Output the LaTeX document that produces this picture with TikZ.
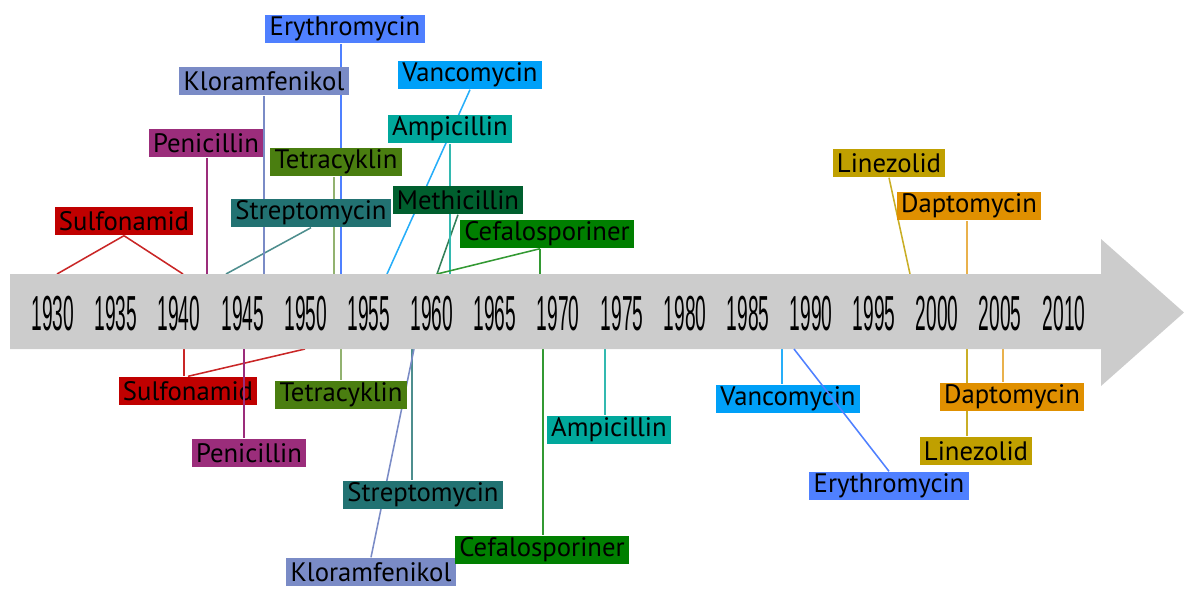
\documentclass[tikz,border=0pt]{standalone}
\usepackage{fontspec}
\setmainfont{PT Sans}
\newfontfamily\yearfont[FakeStretch=0.39]{Liberation Sans}
\usetikzlibrary{backgrounds}
\definecolor{bar}{HTML}{CCCCCC}
\definecolor{sulf}{HTML}{C00000}
\definecolor{peni}{HTML}{9B2D7B}
\definecolor{klor}{HTML}{7A8BC6}
\definecolor{ery}{HTML}{4F80FF}
\definecolor{tetr}{HTML}{4A7E10}
\definecolor{strep}{HTML}{227272}
\definecolor{vanc}{HTML}{00A0F8}
\definecolor{ampi}{HTML}{00A89C}
\definecolor{meth}{HTML}{005F2E}
\definecolor{cefa}{HTML}{007F00}
\definecolor{linz}{HTML}{C0A000}
\definecolor{dapt}{HTML}{E09000}

\begin{document}
\begin{tikzpicture}[x=0.025cm,y=-0.025cm]
	    \tikzstyle{drug}=[inner xsep=3pt,inner ysep=0pt,minimum height=0.72cm,font=\fontsize{19}{22}\selectfont]
	    \tikzstyle{year}=[inner sep=0pt,font=\yearfont\fontsize{35}{36}\selectfont]
	    \tikzstyle{link}=[line width=1.1pt]

	    \useasboundingbox (0,0) rectangle (1184,588);
	    \fill[bar] (10,274) -- (1101,274) -- (1101,239) -- (1184,312.5) -- (1101,386) -- (1101,349) -- (10,349) -- cycle;

	    \node[year](y1930) at (53,314){1930};
	    \node[year](y1935) at (116,314){1935};
	    \node[year](y1940) at (179,314){1940};
	    \node[year](y1945) at (243,314){1945};
	    \node[year](y1950) at (306,314){1950};
	    \node[year](y1955) at (369,314){1955};
	    \node[year](y1960) at (432,314){1960};
	    \node[year](y1965) at (495,314){1965};
	    \node[year](y1970) at (558,314){1970};
	    \node[year](y1975) at (622,314){1975};
	    \node[year](y1980) at (685,314){1980};
	    \node[year](y1985) at (748,314){1985};
	    \node[year](y1990) at (811,314){1990};
	    \node[year](y1995) at (874,314){1995};
	    \node[year](y2000) at (937,314){2000};
	    \node[year](y2005) at (1000,314){2005};
	    \node[year](y2010) at (1064,314){2010};

	    % ovanfor pilen
	    \node[drug,fill=sulf](sulfu) at (124,221){Sulfonamid};
	    \node[drug,fill=peni](peniu) at (206,143){Penicillin};
	    \node[drug,fill=klor](kloru) at (264,81){Kloramfenikol};
	    \node[drug,fill=ery](eryu) at (345,29){Erythromycin};
	    \node[drug,fill=tetr](tetru) at (336,162){Tetracyklin};
	    \node[drug,fill=strep](strepu) at (311,213){Streptomycin};
	    \node[drug,fill=vanc](vancu) at (470,75){Vancomycin};
	    \node[drug,fill=ampi](ampiu) at (450,129){Ampicillin};
	    \node[drug,fill=meth](methu) at (458,200){Methicillin};
	    \node[drug,fill=cefa](cefau) at (547,234){Cefalosporiner};
	    \node[drug,fill=linz](linzu) at (889,163){Linezolid};
	    \node[drug,fill=dapt](daptu) at (969,206){Daptomycin};

	    % nedanfor pilen
	    \node[drug,fill=sulf](sulfd) at (188,391){Sulfonamid};
	    \node[drug,fill=peni](penid) at (249,453){Penicillin};
	    \node[drug,fill=tetr](tetrd) at (341,395){Tetracyklin};
	    \node[drug,fill=strep](strepd) at (423,495){Streptomycin};
	    \node[drug,fill=klor](klord) at (371,572){Kloramfenikol};
	    \node[drug,fill=cefa](cefad) at (542,550){Cefalosporiner};
	    \node[drug,fill=ampi](ampid) at (609,430){Ampicillin};
	    \node[drug,fill=vanc](vancd) at (788,399){Vancomycin};
	    \node[drug,fill=ery](eryd) at (889,486){Erythromycin};
	    \node[drug,fill=dapt](daptd) at (1012,397){Daptomycin};
	    \node[drug,fill=linz](linzd) at (976,451){Linezolid};

	    \coordinate (t1) at (57,274);
	    \coordinate (t2) at (183,274);
	    \coordinate (t3) at (207,274);
	    \coordinate (t4) at (226,274);
	    \coordinate (t5) at (264,274);
	    \coordinate (t6) at (334,274);
	    \coordinate (t7) at (341,274);
	    \coordinate (t8) at (387,274);
	    \coordinate (t9) at (437,274);
	    \coordinate (t10) at (450,274);
	    \coordinate (t11) at (540,274);
	    \coordinate (t12) at (910,274);
	    \coordinate (t13) at (967,274);

	    \coordinate (b1) at (184,349);
	    \coordinate (b2) at (305,349);
	    \coordinate (b3) at (244,349);
	    \coordinate (b4) at (341,349);
	    \coordinate (b5) at (412,349);
	    \coordinate (b6) at (414,349);
	    \coordinate (b7) at (543,349);
	    \coordinate (b8) at (605,349);
	    \coordinate (b9) at (782,349);
	    \coordinate (b10) at (794,349);
	    \coordinate (b11) at (1003,349);
	    \coordinate (b12) at (967,349);

	    \begin{pgfonlayer}{background}
	    \draw[link,draw=sulf!85!white] (sulfu.south) -- (t1);
	    \draw[link,draw=sulf!85!white] (sulfu.south) -- (t2);
	    \draw[link,draw=peni] (t3) -- (t3 |- peniu.south);
	    \draw[link,draw=strep!80!white] (strepu.south) -- (t4);
	    \draw[link,draw=klor] (t5) -- (t5 |- kloru.south);
	    \draw[link,draw=tetr!60!white] (t6) -- (t6 |- tetru.south);
	    \draw[link,draw=ery] (t7) -- (t7 |- eryu.south);
	    \draw[link,draw=vanc!85!white] (vancu.south) -- (t8);
	    \draw[link,draw=meth!80!white] (methu.south) -- (t9);
	    \draw[link,draw=ampi!80!white] (t10) -- (t10 |- ampiu.south);
	    \draw[link,draw=cefa!80!white] (t11 |- cefau.south) -- (t9);
	    \draw[link,draw=cefa!80!white] (t11 |- cefau.south) -- (t11);
	    \draw[link,draw=linz!85!white] (linzu.south) -- (t12);
	    \draw[link,draw=dapt!70!white] (t13) -- (t13 |- daptu.south);

	    \draw[link,draw=sulf!85!white] (b1) -- (b1 |- sulfd.north);
	    \draw[link,draw=sulf!85!white] (b2) -- (sulfd.north);
	    \draw[link,draw=tetr!60!white] (b4) -- (b4 |- tetrd.north);
	    \draw[link,draw=strep!80!white] (b5) -- (b5 |- strepd.north);
	    \draw[link,draw=klor] (b6) -- (klord.north);
	    \draw[link,draw=cefa!80!white] (b7) -- (b7 |- cefad.north);
	    \draw[link,draw=ampi!80!white] (b8) -- (b8 |- ampid.north);
	    \draw[link,draw=vanc!85!white] (b9) -- (b9 |- vancd.north);
	    \draw[link,draw=dapt!70!white] (b11) -- (b11 |- daptd.north);
	    \draw[link,draw=linz!85!white] (b12) -- (b12 |- linzd.north);
	    \end{pgfonlayer}

	    \draw[link,draw=peni] (b3) -- (b3 |- penid.north);
	    \draw[link,draw=ery] (b10) -- (eryd.north);
\end{tikzpicture}
\end{document}
